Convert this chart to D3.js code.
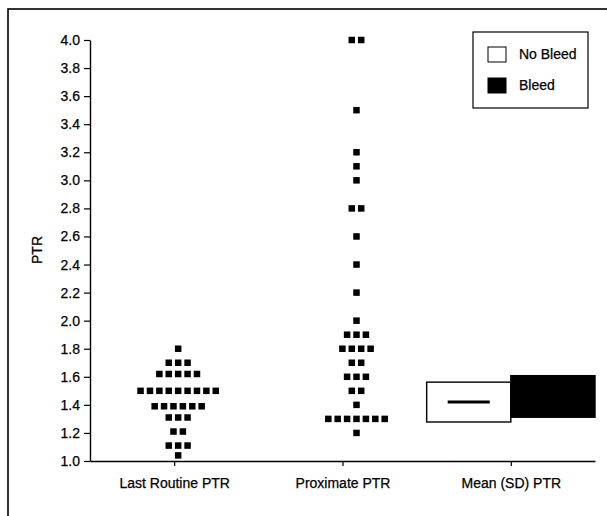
<!DOCTYPE html>
<html>
<head>
<meta charset="utf-8">
<script src="https://cdn.jsdelivr.net/npm/d3@7"></script>
<style>
  html, body { margin: 0; padding: 0; background: #fff; }
  svg { display: block; font-family: "Liberation Sans", Arial, Helvetica, sans-serif; }
  text { stroke: #000; stroke-width: 0.25px; }
</style>
</head>
<body>
<svg id="chart" width="607" height="516"></svg>
<script>
// categories on the x axis
var categories = ['Last Routine PTR', 'Proximate PTR', 'Mean (SD) PTR'];

// individual PTR values
var lastRoutine = [
  1.8,
  1.7, 1.7, 1.7,
  1.62, 1.62, 1.62, 1.62, 1.62,
  1.5, 1.5, 1.5, 1.5, 1.5, 1.5, 1.5, 1.5, 1.5,
  1.39, 1.39, 1.39, 1.39, 1.39, 1.39,
  1.31, 1.31, 1.31,
  1.21, 1.21,
  1.11, 1.11, 1.11,
  1.04
];

var proximate = [
  4.0, 4.0,
  3.5,
  3.2,
  3.1,
  3.0,
  2.8, 2.8,
  2.6,
  2.4,
  2.2,
  2.0,
  1.9, 1.9, 1.9,
  1.8, 1.8, 1.8, 1.8,
  1.7, 1.7,
  1.6, 1.6, 1.6,
  1.5, 1.5,
  1.4,
  1.3, 1.3, 1.3, 1.3, 1.3, 1.3, 1.3,
  1.2
];

// mean (SD) by group
var groups = ['No Bleed', 'Bleed'];
var means = [1.42, 1.46];
var sds = [0.142, 0.148];

var yTicks = [1.0, 1.2, 1.4, 1.6, 1.8, 2.0, 2.2, 2.4, 2.6, 2.8, 3.0, 3.2, 3.4, 3.6, 3.8, 4.0];

var svg = d3.select('#chart');

// outer frame (runs off the right and bottom edges)
svg.append('rect')
  .attr('x', 8).attr('y', 9)
  .attr('width', 640).attr('height', 540)
  .attr('fill', 'none').attr('stroke', '#000').attr('stroke-width', 1.6);

var x = d3.scalePoint().domain(categories).range([90, 595]).padding(0.5);
var y = d3.scaleLinear().domain([1, 4]).range([461, 40]);

// y axis
var yAxis = svg.append('g')
  .attr('transform', 'translate(90,0)')
  .call(d3.axisLeft(y).tickValues(yTicks).tickFormat(d3.format('.1f')).tickSize(6).tickSizeOuter(0));
yAxis.select('.domain').attr('stroke-width', 1.4);
yAxis.selectAll('.tick line').attr('stroke-width', 1.2);
yAxis.selectAll('.tick text')
  .attr('x', -10)
  .attr('font-size', 14)
  .attr('font-family', null)
  .attr('fill', '#000');

// x axis
var xAxis = svg.append('g')
  .attr('transform', 'translate(0,461)')
  .call(d3.axisBottom(x).tickSize(5).tickSizeOuter(0));
xAxis.select('.domain').attr('stroke-width', 1.4);
xAxis.selectAll('.tick line').attr('stroke-width', 1.2);
xAxis.selectAll('.tick text')
  .attr('y', 17)
  .attr('font-size', 14)
  .attr('font-family', null)
  .attr('fill', '#000');

svg.append('text')
  .attr('transform', 'translate(42,250) rotate(-90)')
  .attr('text-anchor', 'middle')
  .attr('font-size', 14)
  .text('PTR');

// simple row swarm: equal values sit side by side around the column centre
var dotSize = 6.5;
var dotStep = 9.4;

function swarm(values, cx) {
  var rows = d3.group(values, function (d) { return d; });
  var out = [];
  rows.forEach(function (list, v) {
    list.forEach(function (d, i) {
      out.push({ v: v, x: cx + (i - (list.length - 1) / 2) * dotStep });
    });
  });
  return out;
}

var dots = swarm(lastRoutine, x(categories[0]) + 4)
  .concat(swarm(proximate, x(categories[1]) + 14));

svg.append('g').selectAll('rect').data(dots).enter().append('rect')
  .attr('x', function (d) { return d.x - dotSize / 2; })
  .attr('y', function (d) { return y(d.v) - dotSize / 2; })
  .attr('width', dotSize)
  .attr('height', dotSize)
  .attr('fill', '#000');

// mean (SD) boxes
var boxW = x.step() / 2;
var cx3 = x(categories[2]);
var boxes = svg.append('g');
groups.forEach(function (g, i) {
  var x0 = i === 0 ? cx3 - boxW : cx3;
  boxes.append('rect')
    .attr('x', x0)
    .attr('y', y(means[i] + sds[i]))
    .attr('width', boxW)
    .attr('height', y(means[i] - sds[i]) - y(means[i] + sds[i]))
    .attr('fill', i === 0 ? '#fff' : '#000')
    .attr('stroke', '#000')
    .attr('stroke-width', 1.4);
  boxes.append('line')
    .attr('x1', x0 + boxW * 0.25)
    .attr('x2', x0 + boxW * 0.75)
    .attr('y1', y(means[i]))
    .attr('y2', y(means[i]))
    .attr('stroke', '#000')
    .attr('stroke-width', 3);
});

// legend
var legend = svg.append('g').attr('transform', 'translate(473,32)');
legend.append('rect')
  .attr('width', 115).attr('height', 76)
  .attr('fill', '#fff').attr('stroke', '#000').attr('stroke-width', 1.2);
groups.forEach(function (g, i) {
  var row = legend.append('g').attr('transform', 'translate(15,' + (15 + i * 31) + ')');
  row.append('rect')
    .attr('width', 18).attr('height', 15)
    .attr('fill', i === 0 ? '#fff' : '#000')
    .attr('stroke', '#000').attr('stroke-width', 1);
  row.append('text')
    .attr('x', 31).attr('y', 12)
    .attr('font-size', 14)
    .text(g);
});
</script>
</body>
</html>
